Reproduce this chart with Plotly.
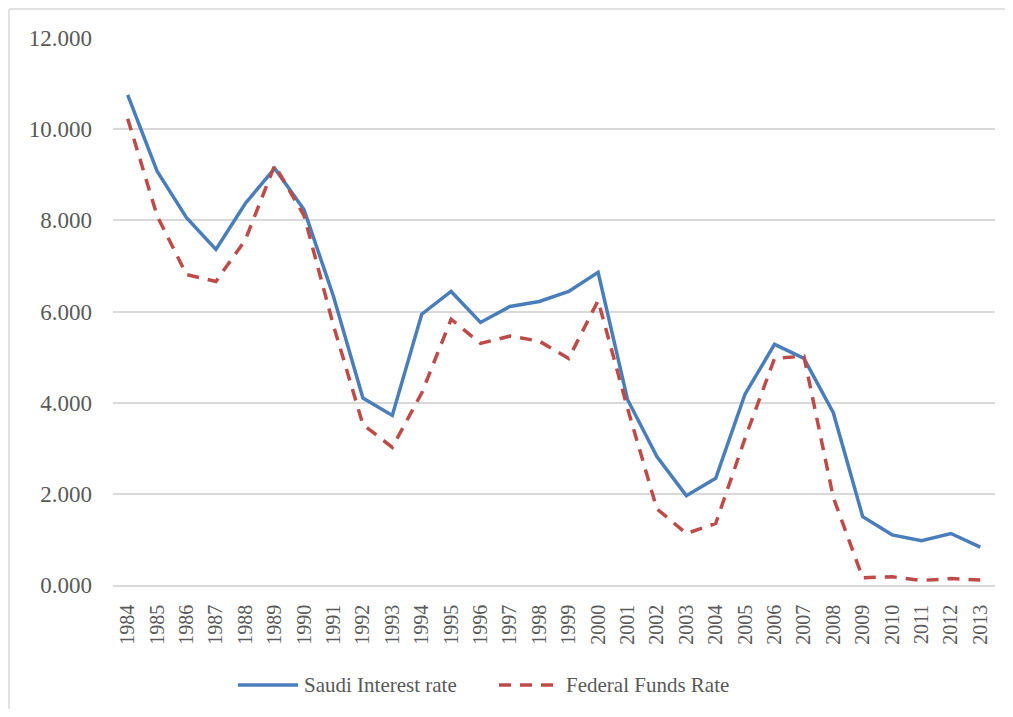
import plotly.graph_objects as go

years = [str(y) for y in range(1984, 2014)]
saudi_rate = [10.75, 9.08, 8.06, 7.36, 8.37, 9.14, 8.23, 6.33, 4.10, 3.72,
              5.94, 6.44, 5.76, 6.11, 6.22, 6.44, 6.86, 4.07, 2.82, 1.96,
              2.34, 4.19, 5.28, 4.97, 3.78, 1.50, 1.10, 0.97, 1.13, 0.83]
fed_rate = [10.23, 8.10, 6.81, 6.66, 7.57, 9.21, 8.10, 5.69, 3.52, 3.02,
            4.21, 5.83, 5.30, 5.46, 5.35, 4.97, 6.24, 3.88, 1.67, 1.13,
            1.35, 3.22, 4.97, 5.02, 1.92, 0.16, 0.18, 0.10, 0.14, 0.11]
y_ticks = [0, 2, 4, 6, 8, 10, 12]
y_tick_labels = ["0.000", "2.000", "4.000", "6.000", "8.000", "10.000", "12.000"]
series_names = ["Saudi Interest rate", "Federal Funds Rate"]

FONT = "Liberation Serif, Times New Roman, serif"
GRAY = "#595959"
BLUE = "#4A7EBB"
RED = "#BE4B48"
DASH = "12px,9px"

# page -> paper helpers (plot area: page x 113..995, y 38..585)
def px(x):
    return (x - 113) / 882.0

def py(y):
    return (585 - y) / 547.0

fig = go.Figure()
fig.add_trace(go.Scatter(x=years, y=saudi_rate, mode="lines", name=series_names[0],
                         line=dict(color=BLUE, width=3.5), showlegend=False))
fig.add_trace(go.Scatter(x=years, y=fed_rate, mode="lines", name=series_names[1],
                         line=dict(color=RED, width=3.5, dash=DASH), showlegend=False))

legend_y = py(685)
border = dict(color="#d9d9d9", width=1.5)
shapes = [
    # outer chart border (top and left edges visible in the reference)
    dict(type="line", xref="paper", yref="paper", x0=px(9), x1=px(1040),
         y0=py(9), y1=py(9), line=border, layer="below"),
    dict(type="line", xref="paper", yref="paper", x0=px(9), x1=px(9),
         y0=py(9), y1=py(740), line=border, layer="below"),
    # legend samples
    dict(type="line", xref="paper", yref="paper", x0=px(238), x1=px(298),
         y0=legend_y, y1=legend_y, line=dict(color=BLUE, width=3.5)),
    dict(type="line", xref="paper", yref="paper", x0=px(499), x1=px(560),
         y0=legend_y, y1=legend_y, line=dict(color=RED, width=3.5, dash=DASH)),
]
annotations = [
    dict(xref="paper", yref="paper", x=px(302), y=legend_y, xanchor="left", yanchor="middle",
         text=series_names[0], showarrow=False, font=dict(family=FONT, size=21, color=GRAY)),
    dict(xref="paper", yref="paper", x=px(564), y=legend_y, xanchor="left", yanchor="middle",
         text=series_names[1], showarrow=False, font=dict(family=FONT, size=21, color=GRAY)),
]

fig.update_layout(
    width=997, height=701,
    margin=dict(l=105, r=10, t=30, b=124),
    paper_bgcolor="white", plot_bgcolor="white",
    font=dict(family=FONT, color=GRAY),
    showlegend=False,
    xaxis=dict(type="category", range=[-0.5, 29.5], tickangle=-90,
               tickfont=dict(family=FONT, size=20, color=GRAY),
               showgrid=False, showline=True, linecolor="#d9d9d9", linewidth=1.5,
               ticks="", ticklabelstandoff=10, fixedrange=True),
    yaxis=dict(range=[0, 12], tickvals=y_ticks, ticktext=y_tick_labels,
               tickfont=dict(family=FONT, size=23, color=GRAY),
               showgrid=True, gridcolor="#d9d9d9", gridwidth=1.5,
               zeroline=False, showline=False, ticks="", ticklabelstandoff=20,
               fixedrange=True),
    shapes=shapes,
    annotations=annotations,
)

fig.write_html("out.html")
